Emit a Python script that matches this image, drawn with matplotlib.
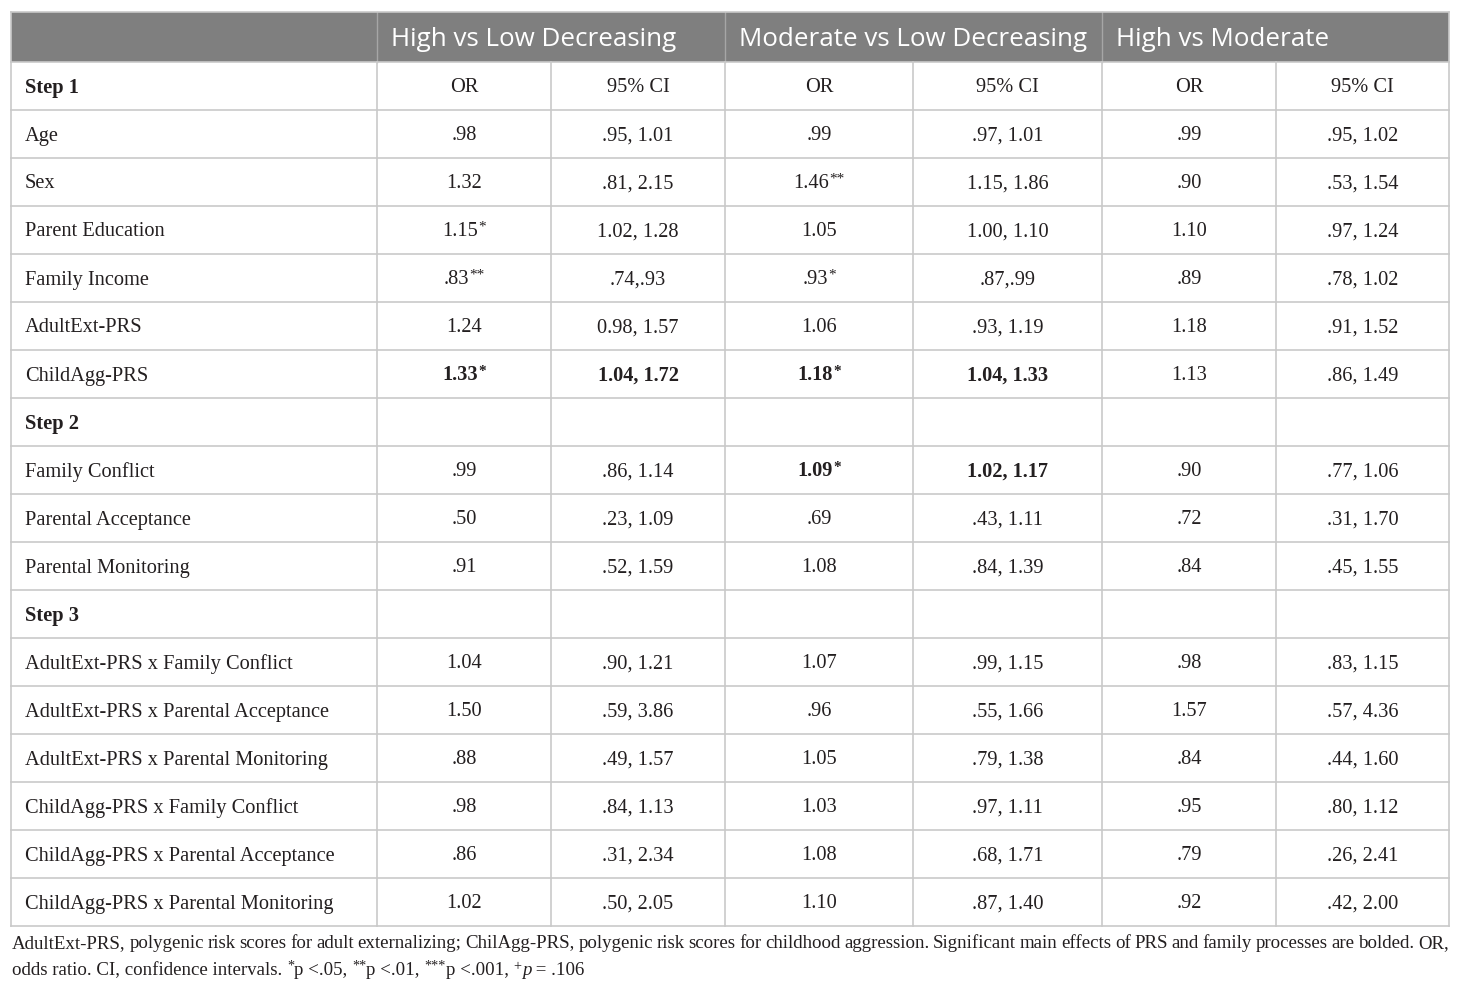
import matplotlib
matplotlib.use("Agg")
import matplotlib.pyplot as plt
from matplotlib.patches import Rectangle

# ---------------- data ----------------
groups = ["High vs Low Decreasing", "Moderate vs Low Decreasing", "High vs Moderate"]
sub_headers = ["OR", "95% CI"]

row_labels = ["Step 1", "Age", "Sex", "Parent Education", "Family Income", "AdultExt-PRS",
              "ChildAgg-PRS", "Step 2", "Family Conflict", "Parental Acceptance",
              "Parental Monitoring", "Step 3", "AdultExt-PRS x Family Conflict",
              "AdultExt-PRS x Parental Acceptance", "AdultExt-PRS x Parental Monitoring",
              "ChildAgg-PRS x Family Conflict", "ChildAgg-PRS x Parental Acceptance",
              "ChildAgg-PRS x Parental Monitoring"]
step_rows = ["Step 1", "Step 2", "Step 3"]

# High vs Low Decreasing
hl_or = ["", ".98", "1.32", "1.15", ".83", "1.24", "1.33", "", ".99", ".50", ".91", "",
         "1.04", "1.50", ".88", ".98", ".86", "1.02"]
hl_sig = ["", "", "", "*", "**", "", "*", "", "", "", "", "", "", "", "", "", "", ""]
hl_ci = ["", ".95, 1.01", ".81, 2.15", "1.02, 1.28", ".74,.93", "0.98, 1.57", "1.04, 1.72", "",
         ".86, 1.14", ".23, 1.09", ".52, 1.59", "", ".90, 1.21", ".59, 3.86", ".49, 1.57",
         ".84, 1.13", ".31, 2.34", ".50, 2.05"]
hl_bold = ["ChildAgg-PRS"]

# Moderate vs Low Decreasing
ml_or = ["", ".99", "1.46", "1.05", ".93", "1.06", "1.18", "", "1.09", ".69", "1.08", "",
         "1.07", ".96", "1.05", "1.03", "1.08", "1.10"]
ml_sig = ["", "", "**", "", "*", "", "*", "", "*", "", "", "", "", "", "", "", "", ""]
ml_ci = ["", ".97, 1.01", "1.15, 1.86", "1.00, 1.10", ".87,.99", ".93, 1.19", "1.04, 1.33", "",
         "1.02, 1.17", ".43, 1.11", ".84, 1.39", "", ".99, 1.15", ".55, 1.66", ".79, 1.38",
         ".97, 1.11", ".68, 1.71", ".87, 1.40"]
ml_bold = ["ChildAgg-PRS", "Family Conflict"]

# High vs Moderate
hm_or = ["", ".99", ".90", "1.10", ".89", "1.18", "1.13", "", ".90", ".72", ".84", "",
         ".98", "1.57", ".84", ".95", ".79", ".92"]
hm_sig = [""] * 18
hm_ci = ["", ".95, 1.02", ".53, 1.54", ".97, 1.24", ".78, 1.02", ".91, 1.52", ".86, 1.49", "",
         ".77, 1.06", ".31, 1.70", ".45, 1.55", "", ".83, 1.15", ".57, 4.36", ".44, 1.60",
         ".80, 1.12", ".26, 2.41", ".42, 2.00"]
hm_bold = []

note_line1 = ("AdultExt-PRS, polygenic risk scores for adult externalizing; ChilAgg-PRS, polygenic "
              "risk scores for childhood aggression. Significant main effects of PRS and family "
              "processes are bolded. OR,")
note_line2 = [("odds ratio. CI, confidence intervals. ", "n"), ("*", "sup"), ("p <.05, ", "n"),
              ("**", "sup"), ("p <.01, ", "n"), ("***", "sup"), ("p <.001, ", "n"),
              ("+", "sup"), ("p", "i"), (" = .106", "n")]

# ---------------- layout ----------------
W, H = 1460, 991
fig = plt.figure(figsize=(14.6, 9.91), dpi=100)
ax = fig.add_axes([0, 0, 1, 1])
ax.set_xlim(0, W)
ax.set_ylim(H, 0)
ax.axis("off")
renderer = fig.canvas.get_renderer()

SERIF = ["Liberation Serif", "DejaVu Serif"]
TXT = "#231f20"
GRID = "#c9c9c9"
BODY_FS = 14.7

col_x = [11, 377, 551, 725, 913, 1102, 1276, 1449]
head_top, head_bot = 12, 62
row_h = 48
n_rows = len(row_labels)
row_y = [head_bot + i * row_h for i in range(n_rows + 1)]


def measure(s, **kw):
    t = ax.text(0, 0, s, **kw)
    w = t.get_window_extent(renderer).width
    t.remove()
    return w


def run_kw(k, fs, bold):
    size = fs * 0.75 if k == "sup" else fs
    return dict(fontsize=size, family=SERIF, fontweight="bold" if bold else "normal",
                fontstyle="italic" if k == "i" else "normal")


def draw_runs(runs, x, y, fs, bold=False, ha="left", color=TXT):
    w = sum(measure(s, **run_kw(k, fs, bold)) for s, k in runs)
    if ha == "center":
        x = x - w / 2
    for s, k in runs:
        kw = run_kw(k, fs, bold)
        dy = -fs * 0.38 if k == "sup" else 0
        ax.text(x, y + dy, s, va="baseline", ha="left", color=color, **kw)
        x += measure(s, **kw)


# header band
ax.add_patch(Rectangle((col_x[0], head_top), col_x[-1] - col_x[0], head_bot - head_top,
                       facecolor="#7f7f7f", edgecolor="none", zorder=0))
for xi in [col_x[1], col_x[3], col_x[5]]:
    ax.plot([xi, xi], [head_top, head_bot], color="#a6a6a6", lw=1)
for gi, g in enumerate(groups):
    ax.text(col_x[1 + 2 * gi] + 14, 46, g, color="white", fontsize=18.7,
            family=["Open Sans", "DejaVu Sans"], va="baseline", ha="left")

# grid
for y in row_y:
    ax.plot([col_x[0], col_x[-1]], [y, y], color=GRID, lw=1.2)
for xi in col_x:
    ax.plot([xi, xi], [head_bot, row_y[-1]], color=GRID, lw=1.2)
ax.plot([col_x[0], col_x[-1]], [head_top, head_top], color=GRID, lw=1.2)
ax.plot([col_x[0], col_x[0]], [head_top, head_bot], color=GRID, lw=1.2)
ax.plot([col_x[-1], col_x[-1]], [head_top, head_bot], color=GRID, lw=1.2)

# body
comparisons = [(hl_or, hl_sig, hl_ci, hl_bold), (ml_or, ml_sig, ml_ci, ml_bold),
               (hm_or, hm_sig, hm_ci, hm_bold)]
for i, lab in enumerate(row_labels):
    yb = (row_y[i] + row_y[i + 1]) / 2 + 6.5
    draw_runs([(lab, "n")], col_x[0] + 14, yb, BODY_FS, bold=lab in step_rows)
    for ci_, (ors, sigs, cis, bolds) in enumerate(comparisons):
        c_or = (col_x[1 + 2 * ci_] + col_x[2 + 2 * ci_]) / 2
        c_ci = (col_x[2 + 2 * ci_] + col_x[3 + 2 * ci_]) / 2
        if lab == "Step 1":
            draw_runs([(sub_headers[0], "n")], c_or, yb, BODY_FS, ha="center")
            draw_runs([(sub_headers[1], "n")], c_ci, yb, BODY_FS, ha="center")
            continue
        b = lab in bolds
        if ors[i]:
            runs = [(ors[i], "n")]
            if sigs[i]:
                runs.append((sigs[i], "sup"))
            draw_runs(runs, c_or, yb, BODY_FS, bold=b, ha="center")
        if cis[i]:
            draw_runs([(cis[i], "n")], c_ci, yb, BODY_FS, bold=b, ha="center")

# footnote
NOTE_FS = 13.6
words = note_line1.split(" ")
ws = [measure(w, fontsize=NOTE_FS, family=SERIF) for w in words]
gap = (col_x[-1] - 12 - sum(ws)) / (len(words) - 1)
x = 12
for w, wd in zip(words, ws):
    ax.text(x, 948, w, fontsize=NOTE_FS, family=SERIF, color=TXT, va="baseline", ha="left")
    x += wd + gap
draw_runs(note_line2, 12, 975, NOTE_FS)

fig.savefig("out.png", dpi=100)
